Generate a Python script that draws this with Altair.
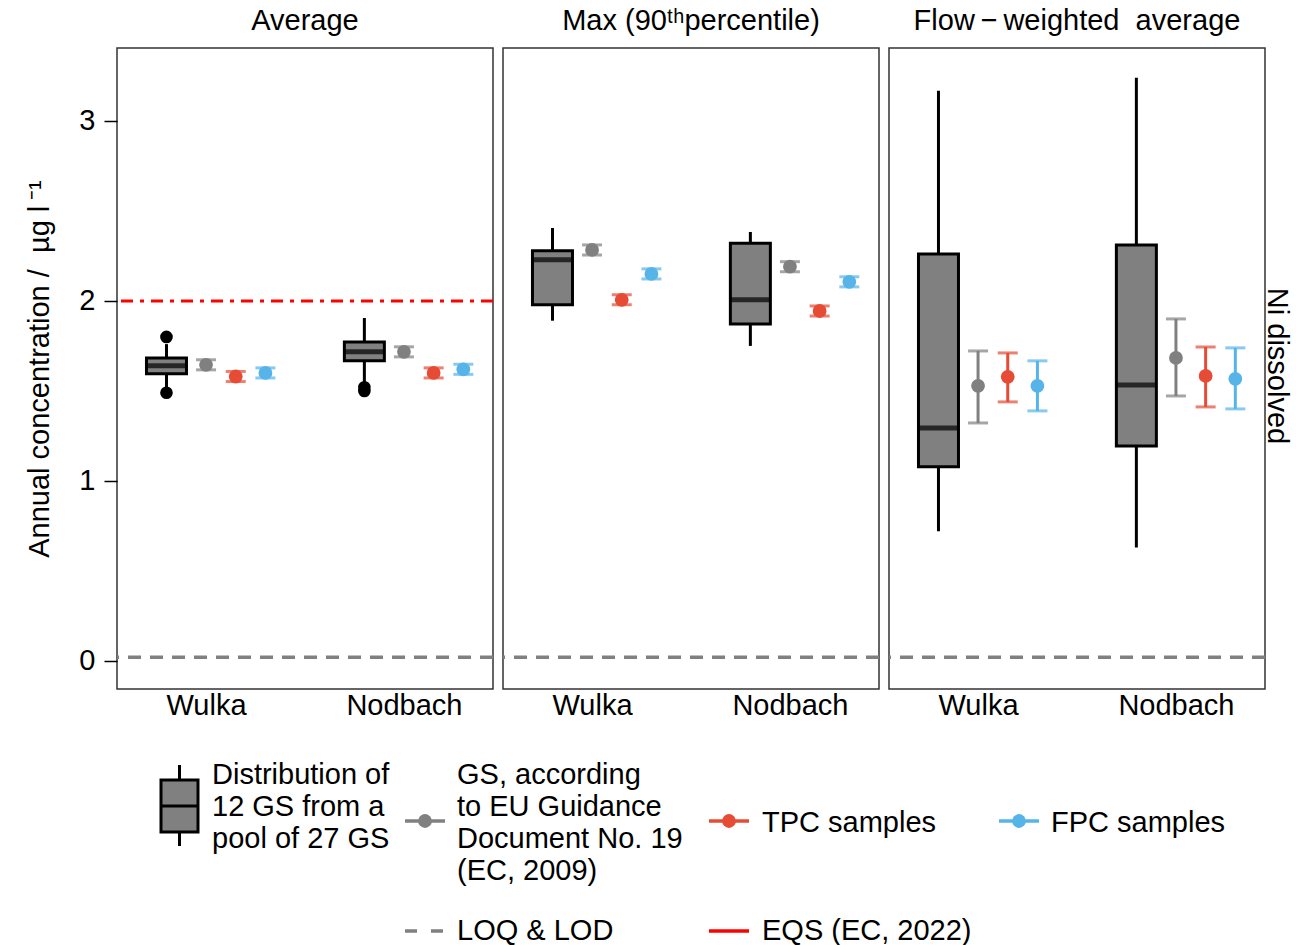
import altair as alt
import pandas as pd

FONT = "Liberation Sans"
FS = 29

# ---------------- data ----------------
sites = ["Wulka", "Nodbach"]
site_pos = [1, 2]
panels = ["Average", "Max (90ᵗʰpercentile)", "Flow\u2009−\u2009weighted\u00a0\u00a0average"]

# boxplot statistics, per panel: [Wulka, Nodbach]
box_lo = [[1.52, 1.55], [1.89, 1.75], [0.72, 0.63]]
box_q1 = [[1.595, 1.667], [1.978, 1.872], [1.078, 1.194]]
box_med = [[1.64, 1.717], [2.228, 2.006], [1.294, 1.533]]
box_q3 = [[1.683, 1.772], [2.278, 2.32], [2.26, 2.31]]
box_hi = [[1.76, 1.905], [2.405, 2.383], [3.167, 3.24]]
outliers = [[[1.49, 1.80], [1.50, 1.52]], [[], []], [[], []]]

series = ["GS", "TPC", "FPC"]
series_colors = ["#808080", "#E64B35", "#56B4E9"]
# mean, low, high per series, per panel, per site
gs_mean = [[1.645, 1.717], [2.283, 2.19], [1.528, 1.683]]
gs_lo = [[1.617, 1.689], [2.255, 2.162], [1.322, 1.472]]
gs_hi = [[1.673, 1.745], [2.311, 2.218], [1.722, 1.90]]
tpc_mean = [[1.58, 1.60], [2.006, 1.944], [1.578, 1.583]]
tpc_lo = [[1.552, 1.572], [1.978, 1.916], [1.439, 1.411]]
tpc_hi = [[1.608, 1.628], [2.034, 1.972], [1.711, 1.744]]
fpc_mean = [[1.60, 1.62], [2.15, 2.106], [1.528, 1.567]]
fpc_lo = [[1.572, 1.592], [2.122, 2.078], [1.389, 1.40]]
fpc_hi = [[1.628, 1.648], [2.178, 2.134], [1.667, 1.739]]

loq_value = 0.02
eqs_value = 2.0

# ---------------- layout (dodge offsets) ----------------
box_offset = -0.2
series_offset = {"GS": 0.0, "TPC": 0.15, "FPC": 0.3}

box_rows, out_rows, ser_rows = [], [], []
for p in range(3):
    for s in range(2):
        box_rows.append(dict(panel=p, x=site_pos[s] + box_offset, lo=box_lo[p][s], q1=box_q1[p][s],
                             med=box_med[p][s], q3=box_q3[p][s], hi=box_hi[p][s]))
        for v in outliers[p][s]:
            out_rows.append(dict(panel=p, x=site_pos[s] + box_offset, v=v))
        for name, m, lo, hi in [("GS", gs_mean, gs_lo, gs_hi), ("TPC", tpc_mean, tpc_lo, tpc_hi),
                                ("FPC", fpc_mean, fpc_lo, fpc_hi)]:
            ser_rows.append(dict(panel=p, series=name, x=site_pos[s] + series_offset[name],
                                 mean=m[p][s], lo=lo[p][s], hi=hi[p][s]))
box_df = pd.DataFrame(box_rows)
out_df = pd.DataFrame(out_rows)
ser_df = pd.DataFrame(ser_rows)

xscale = alt.Scale(domain=[0.55, 2.45], nice=False, zero=False, padding=0)
yscale = alt.Scale(domain=[-0.156, 3.405], nice=False, zero=False, padding=0)
label_expr = " : ".join(f"datum.value == {p} ? '{n}'" for p, n in zip(site_pos, sites)) + " : ''"
xaxis = alt.Axis(values=site_pos, labelExpr=label_expr, ticks=False, domain=False, grid=False,
                 labelFontSize=FS, labelPadding=2, labelColor="black", title=None, labelFont=FONT)
ytitle = "Annual concentration /\u00a0\u00a0µg\u00a0l\u2009⁻¹"
yaxis_left = alt.Axis(values=[0, 1, 2, 3], format="d", tickSize=13, tickWidth=1.5, tickColor="black",
                      labelFontSize=FS, labelPadding=9, labelColor="black", domain=False, grid=False,
                      titleFontSize=FS, titleFontWeight="normal", titlePadding=24, titleColor="black",
                      labelFont=FONT, titleFont=FONT)
color_scale = alt.Scale(domain=series, range=series_colors)


def panel(i):
    yax = yaxis_left if i == 0 else None
    X = lambda: alt.X("x:Q", scale=xscale, axis=xaxis)
    Y = lambda f: alt.Y(f, scale=yscale, axis=yax, title=ytitle)
    bx = box_df[box_df.panel == i]
    sr = ser_df[ser_df.panel == i]
    layers = []
    layers.append(alt.Chart(pd.DataFrame({"x": [1.0], "y": [loq_value]})).mark_rule(
        color="#808080", strokeWidth=3.5, strokeDash=[13, 9], clip=True).encode(y=Y("y:Q")))
    if i == 0:
        layers.append(alt.Chart(pd.DataFrame({"x": [1.0], "y": [eqs_value]})).mark_rule(
            color="#FF0000", strokeWidth=3, strokeDash=[12, 7, 4, 7], clip=True).encode(y=Y("y:Q")))
    layers.append(alt.Chart(bx).mark_rule(color="black", strokeWidth=3).encode(
        x=X(), y=Y("lo:Q"), y2="hi:Q"))
    layers.append(alt.Chart(bx).mark_bar(size=40, color="#808080", stroke="black", strokeWidth=3).encode(
        x=X(), y=Y("q1:Q"), y2="q3:Q"))
    layers.append(alt.Chart(bx).mark_tick(orient="horizontal", size=40, thickness=5, color="black").encode(
        x=X(), y=Y("med:Q")))
    ol = out_df[out_df.panel == i]
    if len(ol):
        layers.append(alt.Chart(ol).mark_point(filled=True, size=160, color="black", opacity=1).encode(
            x=X(), y=Y("v:Q")))
    col = alt.Color("series:N", scale=color_scale, legend=None)
    layers.append(alt.Chart(sr).mark_rule(strokeWidth=3).encode(x=X(), y=Y("lo:Q"), y2="hi:Q", color=col))
    layers.append(alt.Chart(sr).mark_tick(orient="horizontal", size=20, thickness=3).encode(
        x=X(), y=Y("lo:Q"), color=col))
    layers.append(alt.Chart(sr).mark_tick(orient="horizontal", size=20, thickness=3).encode(
        x=X(), y=Y("hi:Q"), color=col))
    layers.append(alt.Chart(sr).mark_point(filled=True, size=190, opacity=1).encode(
        x=X(), y=Y("mean:Q"), color=col))
    if i == 2:
        layers.append(alt.Chart(pd.DataFrame({"t": ["Ni dissolved"]})).mark_text(
            angle=90, fontSize=FS, font=FONT, align="center", baseline="middle", color="black").encode(
            x=alt.value(388), y=alt.value(318), text="t:N"))
    return alt.layer(*layers).properties(
        width=376, height=641,
        title=alt.TitleParams(panels[i], fontSize=FS, fontWeight="normal", font=FONT, color="black",
                              anchor="middle", offset=12))


top = alt.hconcat(panel(0), panel(1), panel(2), spacing=8)

# ---------------- manual legend ----------------
one = pd.DataFrame({"a": [0]})
LW = 1148
leg = []
# box glyph
leg.append(alt.Chart(one).mark_rule(color="black", strokeWidth=3).encode(
    x=alt.value(62.5), y=alt.value(30), y2=alt.value(111)))
leg.append(alt.Chart(one).mark_rect(color="#808080", stroke="black", strokeWidth=3).encode(
    x=alt.value(44), x2=alt.value(81), y=alt.value(45), y2=alt.value(97)))
leg.append(alt.Chart(one).mark_rule(color="black", strokeWidth=3).encode(
    x=alt.value(44), x2=alt.value(81), y=alt.value(71)))


def text_item(txt, x, y):
    return alt.Chart(one).mark_text(align="left", baseline="middle", fontSize=FS, font=FONT,
                                    lineBreak="\n", lineHeight=32, color="black").encode(
        x=alt.value(x), y=alt.value(y), text=alt.value(txt))


def line_item(color, x, y, dash=None, point=True):
    kw = dict(color=color, strokeWidth=3.5)
    if dash:
        kw["strokeDash"] = dash
    out = [alt.Chart(one).mark_rule(**kw).encode(x=alt.value(x), x2=alt.value(x + 40), y=alt.value(y))]
    if point:
        out.append(alt.Chart(one).mark_point(filled=True, size=190, opacity=1, color=color).encode(
            x=alt.value(x + 20), y=alt.value(y)))
    return out


leg.append(text_item("Distribution of\n12 GS from a\npool of 27 GS", 95, 40))
leg += line_item(series_colors[0], 288, 86)
leg.append(text_item("GS, according\nto EU Guidance\nDocument No. 19\n(EC, 2009)", 340, 40))
leg += line_item(series_colors[1], 592, 86)
leg.append(text_item("TPC samples", 645, 88))
leg += line_item(series_colors[2], 882, 86)
leg.append(text_item("FPC samples", 934, 88))
leg += line_item("#808080", 288, 196, dash=[12, 14], point=False)
leg.append(text_item("LOQ & LOD", 340, 196))
leg += line_item("#FF0000", 592, 196, point=False)
leg.append(text_item("EQS (EC, 2022)", 645, 196))

legend = alt.layer(*leg).properties(width=LW, height=200, view=alt.ViewBackground(strokeOpacity=0))

chart = alt.vconcat(top, legend, spacing=14).properties(
    padding={"left": 25, "top": 6, "right": 4, "bottom": 0}
).configure(font=FONT).configure_view(stroke="#333333", strokeWidth=1.5)

chart.save("out.html", embed_options={"renderer": "svg", "actions": False})
